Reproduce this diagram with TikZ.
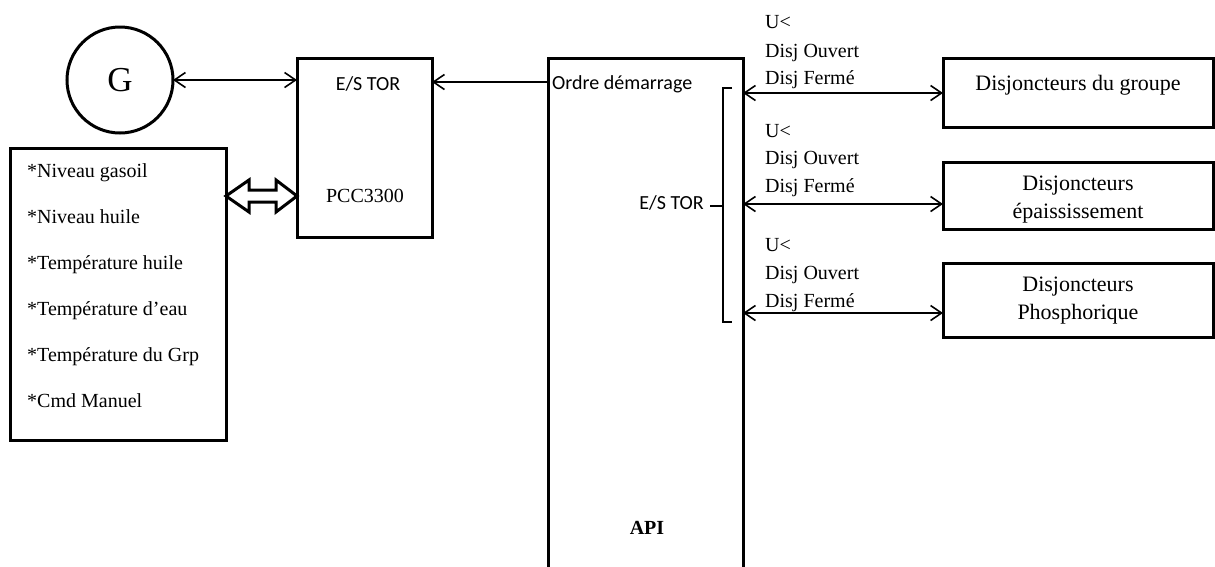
\documentclass[tikz,border=0pt]{standalone}
\usepackage{fontspec}
\setmainfont{Liberation Serif}
\newfontfamily\calibrifont{Carlito}
\usetikzlibrary{arrows.meta,calc}
\begin{document}
\begin{tikzpicture}[x=1pt,y=-1pt,
  box/.style={draw,line width=3pt,rectangle,outer sep=0pt,inner sep=0pt,anchor=north west},
  conn/.style={line width=1.6pt},
  >={Straight Barb[length=11pt,width=15pt]},
  serif/.style={font=\fontsize{20}{24}\selectfont,inner sep=0pt},
  sans/.style={font=\calibrifont\fontsize{20}{24}\selectfont,inner sep=0pt},
  big/.style={font=\fontsize{22}{26}\selectfont,inner sep=0pt,anchor=base},
  ]
\useasboundingbox (0,0) rectangle (1215,566);
\clip (0,0) rectangle (1215,566);

% boxes
\node[draw,circle,line width=3pt,minimum size=106pt,inner sep=0pt,outer sep=0pt,
      font=\fontsize{35}{40}\selectfont] (G) at (120,80) {G};
\node[box,minimum width=135pt,minimum height=179pt] (pcc) at (297,58) {};
\node[box,minimum width=216pt,minimum height=292pt] (lb) at (10,148) {};
\node[box,minimum width=195pt,minimum height=560pt] (api) at (548,58) {};
\node[box,minimum width=270pt,minimum height=69pt] (d1) at (943,58) {};
\node[box,minimum width=270pt,minimum height=67pt] (d2) at (943,162) {};
\node[box,minimum width=270pt,minimum height=74pt] (d3) at (943,263) {};

% texts in boxes
\node[sans,anchor=base] (pcctor) at (368,90) {E/S TOR};
\node[serif,anchor=base] (pccname) at (365,202) {PCC3300};
\node[sans,anchor=base west] (ordre) at (552,89) {Ordre démarrage};
\node[sans,anchor=base east] (apitor) at (704,209) {E/S TOR};
\node[serif,anchor=base,font=\fontsize{20}{24}\selectfont\bfseries] (apiname) at (647,534) {API};

\foreach \t [count=\i] in {*Niveau gasoil,*Niveau huile,*Température huile,*Température d’eau,*Température du Grp,*Cmd Manuel}{
  \node[serif,anchor=base west] (item\i) at (27,131+46*\i) {\t};
}

\node[big] (d1t) at (1078,90) {Disjoncteurs du groupe};
\node[big] (d2t) at (1078,190) {Disjoncteurs};
\node[big] (d2u) at (1078,218) {épaississement};
\node[big] (d3t) at (1078,291) {Disjoncteurs};
\node[big] (d3u) at (1078,319) {Phosphorique};

% labels of signals
\foreach \y [count=\k] in {28,137,251}{
  \node[serif,anchor=base west] (u\k) at (765,\y) {U<};
}
\foreach \y [count=\k] in {57,164,279}{
  \node[serif,anchor=base west] (o\k) at (765,\y) {Disj Ouvert};
}
\foreach \y [count=\k] in {84,192,307}{
  \node[serif,anchor=base west] (f\k) at (765,\y) {Disj Fermé};
}

% connectors
\draw[conn,<->] (G.east) -- (G.east -| pcc.west);
\coordinate (oa) at ($(api.north west)+(0,24)$);
\draw[conn,->] (oa) -- (oa -| pcc.east);

\coordinate (r1) at ($(api.north east)+(0,35)$);
\coordinate (r2) at ($(api.north east)+(0,146)$);
\coordinate (r3) at ($(api.north east)+(0,255)$);
\draw[conn,<->] (r1) -- (r1 -| d1.west);
\draw[conn,<->] (r2) -- (r2 -| d2.west);
\draw[conn,<->] (r3) -- (r3 -| d3.west);

% bracket
\coordinate (bt) at (723,88);
\coordinate (bb) at (723,322);
\coordinate (bm) at (723,206);
\draw[conn] ($(bt)+(9,0)$) -- (bt) -- (bb) -- ($(bb)+(9,0)$);
\draw[conn] ($(bm)+(-13,0)$) -- (bm);

% hollow double arrow
\coordinate (dl) at ($(lb.north east)+(0,48)$);
\coordinate (dr) at (dl -| pcc.west);
\draw[line width=3pt,line join=miter]
  (dl) -- ++(23,-16) -- ++(0,10) -- ++(27,0) -- ++(0,-10) -- (dr)
  -- ++(-21,16) -- ++(0,-10) -- ++(-27,0) -- ++(0,10) -- cycle;
\end{tikzpicture}
\end{document}
